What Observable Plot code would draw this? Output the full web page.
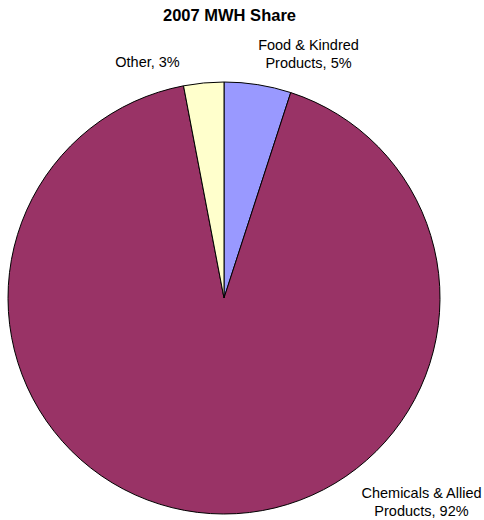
<!DOCTYPE html>
<html>
<head>
<meta charset="utf-8">
<script src="https://cdn.jsdelivr.net/npm/d3@7"></script>
<script src="https://cdn.jsdelivr.net/npm/@observablehq/plot@0.6"></script>
<style>
  html, body { margin: 0; padding: 0; background: #fff; }
</style>
</head>
<body>
<div id="chart"></div>
<script>
// ---- data ----
const categories = ["Food & Kindred Products", "Chemicals & Allied Products", "Other"];
const shares = [5, 92, 3];
const labelLines = [["Food & Kindred", "Products, 5%"], ["Chemicals & Allied", "Products, 92%"], ["Other, 3%"]];
const colors = ["#9999FF", "#993366", "#FFFFCC"];
const title = "2007 MWH Share";

// ---- layout (page coordinates) ----
const W = 484, H = 520;
const center = {x: 224, y: 298}, radius = 216;
const labelAnchors = [{x: 308, y: 45}, {x: 421, y: 493}, {x: 147, y: 62}];
const lineGap = 18;

const pie = d3.pie().sort(null).value(d => d.value)(
  categories.map((c, i) => ({category: c, value: shares[i], color: colors[i]}))
);

const labels = [];
labelLines.forEach((lines, i) => lines.forEach((t, j) => labels.push({text: t, x: labelAnchors[i].x, y: labelAnchors[i].y + j * lineGap})));

function pieMark(index, scales) {
  const cx = scales.x(center.x), cy = scales.y(center.y);
  const r = scales.x(center.x + radius) - cx;
  const arc = d3.arc().innerRadius(0).outerRadius(r);
  const g = d3.create("svg:g").attr("transform", `translate(${cx},${cy})`);
  g.selectAll("path").data(pie).join("path")
    .attr("d", arc)
    .attr("fill", d => d.data.color)
    .attr("stroke", "#000")
    .attr("stroke-width", 1)
    .attr("stroke-linejoin", "round");
  return g.node();
}

const chart = Plot.plot({
  width: W,
  height: H,
  margin: 0,
  x: {domain: [0, W], range: [0, W], axis: null},
  y: {domain: [0, H], range: [0, H], axis: null},
  style: {fontFamily: "Liberation Sans, Arial, sans-serif", background: "#fff"},
  marks: [
    pieMark,
    Plot.text(labels, {x: "x", y: "y", text: "text", fontSize: 14.5, fill: "#000", textAnchor: "middle"}),
    Plot.text([title], {x: () => 229, y: () => 15, text: d => d, fontSize: 16.5, fontWeight: "bold", fill: "#000"})
  ]
});
document.getElementById("chart").appendChild(chart);
</script>
</body>
</html>
